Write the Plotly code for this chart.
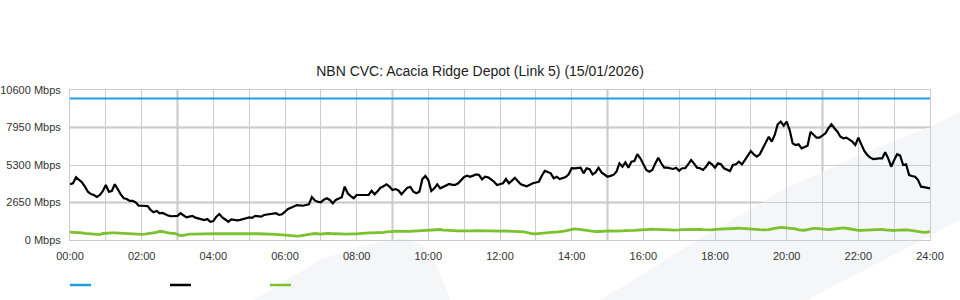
import plotly.graph_objects as go

title_text = "NBN CVC: Acacia Ridge Depot (Link 5) (15/01/2026)"

# x axis: hours of the day, labels every 2 hours, grid every hour
x_tick_vals = list(range(0, 25))
x_tick_text = [f"{h:02d}:00" if h % 2 == 0 else "" for h in range(0, 25)]

y_tick_vals = [0, 2650, 5300, 7950, 10600]
y_tick_text = ["0 Mbps", "2650 Mbps", "5300 Mbps", "7950 Mbps", "10600 Mbps"]

# capacity (blue)
capacity_hours = [0, 24]
capacity_mbps = [10000, 10000]

# 5-minute samples across the day
sample_hours = [m / 60 for m in range(0, 1441, 5)]

# black series (Mbps), one row per hour
traffic_mbps = [
    3940, 4010, 4430, 4240, 4080, 3770, 3410, 3250, 3180, 3040, 3180, 3460,
    3890, 3410, 3460, 3940, 3530, 3230, 2950, 2900, 2760, 2760, 2660, 2420,
    2420, 2420, 2400, 2120, 1960, 2050, 1890, 1910, 1800, 1720, 1680, 1690,
    1700, 1890, 1770, 1600, 1650, 1700, 1580, 1520, 1460, 1410, 1480, 1290,
    1340, 1650, 1840, 1600, 1450, 1290, 1460, 1420, 1390, 1420, 1460, 1540,
    1600, 1560, 1700, 1650, 1650, 1770, 1790, 1820, 1850, 1890, 1770, 1820,
    2000, 2190, 2280, 2350, 2470, 2440, 2420, 2470, 2520, 3040, 2800, 2700,
    2660, 2850, 2950, 2830, 2590, 2830, 2950, 3020, 3770, 3300, 3100, 2950,
    3180, 3180, 3230, 3200, 3180, 3480, 3230, 3450, 3700, 3800, 3940, 3770,
    3530, 3600, 3500, 3230, 3460, 3700, 3750, 3410, 3300, 3410, 4300, 4520,
    4240, 3460, 3650, 3940, 3650, 3770, 3850, 3960, 3900, 3890, 4010, 4240,
    4450, 4540, 4470, 4550, 4640, 4590, 4290, 4470, 4430, 4280, 4120, 3890,
    3950, 4010, 4310, 4010, 4200, 4400, 4150, 3940, 3860, 3800, 3900, 4010,
    4060, 4120, 4540, 4880, 4800, 4710, 4360, 4470, 4310, 4380, 4450, 4640,
    5070, 5060, 5070, 5110, 4710, 5070, 5000, 4640, 4780, 5110, 4780, 4590,
    4470, 4530, 4600, 4830, 5420, 5180, 5490, 5110, 5530, 5580, 6060, 5770,
    5300, 4950, 4830, 4950, 5400, 5820, 5420, 5110, 5110, 5060, 5020, 5110,
    4900, 5070, 5070, 5350, 5650, 5400, 5110, 5070, 4950, 5180, 5490, 5350,
    5110, 5420, 5350, 5070, 4950, 4880, 5300, 5350, 5530, 5350, 5650, 6000,
    6290, 6050, 5890, 6060, 6480, 6900, 7300, 6950, 7420, 8180, 8360, 8080,
    8360, 7770, 6830, 6710, 6760, 6480, 6600, 6660, 7650, 7470, 7230, 7230,
    7400, 7540, 7900, 8180, 7900, 7650, 7300, 7190, 7230, 7070, 6950, 6710,
    7230, 6760, 6300, 6010, 5820, 5720, 5770, 5770, 5770, 6200, 5770, 5180,
    5650, 6060, 5960, 5300, 5350, 4590, 4520, 4470, 4240, 3770, 3740, 3720,
    3650,
]

# green series (Mbps), one row per hour
green_mbps = [
    550, 550, 540, 530, 500, 470, 450, 440, 420, 360, 380, 460,
    490, 500, 500, 500, 490, 480, 460, 420, 400, 400, 400, 410,
    400, 420, 440, 460, 470, 540, 600, 610, 540, 480, 470, 460,
    400, 320, 330, 380, 410, 420, 430, 420, 430, 420, 430, 430,
    440, 450, 440, 450, 440, 450, 440, 440, 450, 440, 450, 440,
    440, 450, 440, 440, 440, 430, 440, 430, 420, 400, 380, 360,
    350, 350, 340, 300, 270, 290, 340, 390, 430, 440, 460, 430,
    420, 440, 480, 470, 440, 420, 440, 430, 420, 440, 440, 430,
    430, 460, 480, 490, 500, 500, 500, 500, 510, 540, 570, 590,
    600, 620, 630, 610, 630, 640, 620, 630, 640, 650, 660, 680,
    690, 700, 720, 760, 740, 700, 680, 660, 650, 640, 640, 640,
    630, 640, 650, 640, 660, 650, 640, 640, 630, 640, 640, 640,
    630, 640, 630, 630, 620, 630, 620, 610, 580, 530, 470, 430,
    440, 460, 500, 540, 560, 550, 550, 560, 580, 600, 640, 700,
    760, 780, 770, 740, 700, 650, 600, 590, 590, 600, 620, 630,
    630, 640, 630, 620, 640, 650, 660, 650, 660, 680, 700, 720,
    730, 750, 760, 760, 750, 750, 760, 750, 740, 720, 700, 690,
    710, 740, 750, 760, 760, 770, 760, 750, 730, 710, 700, 720,
    750, 760, 780, 810, 830, 830, 820, 830, 830, 820, 800, 770,
    740, 720, 720, 730, 720, 710, 740, 780, 830, 870, 890, 870,
    850, 830, 820, 790, 720, 690, 690, 730, 790, 820, 820, 790,
    760, 730, 740, 760, 790, 820, 840, 850, 830, 790, 740, 700,
    680, 680, 690, 720, 750, 770, 780, 770, 750, 720, 690, 660,
    670, 700, 720, 730, 720, 700, 670, 640, 600, 560, 540, 560,
    590,
]

BLUE = "#1e9fe0"
BLACK = "#000000"
GREEN = "#7cc22e"
GRID = "#cccccc"
GRID_DARK = "#c2c2c2"
FONT = "Liberation Sans, Arial, sans-serif"

fig = go.Figure()
fig.add_trace(go.Scatter(x=capacity_hours, y=capacity_mbps, mode="lines",
                         line=dict(color=BLUE, width=2.2), hoverinfo="skip"))
fig.add_trace(go.Scatter(x=sample_hours, y=green_mbps, mode="lines",
                         line=dict(color=GREEN, width=2.8), hoverinfo="skip"))
fig.add_trace(go.Scatter(x=sample_hours, y=traffic_mbps, mode="lines",
                         line=dict(color=BLACK, width=2.2), hoverinfo="skip"))

shapes = []
# half-pixel (blurred, heavier-looking) grid lines of the original
for h in [3, 9, 15, 21]:
    shapes.append(dict(type="line", xref="x", yref="paper", x0=h, x1=h, y0=0, y1=1,
                       line=dict(color=GRID_DARK, width=2), layer="below"))
for v in [2650, 7950]:
    shapes.append(dict(type="line", xref="paper", yref="y", x0=0, x1=1, y0=v, y1=v,
                       line=dict(color=GRID_DARK, width=2), layer="below"))

# faint background watermark shapes (paper coords)
def px(xp):
    return (xp - 70) / 860

def py(yp):
    return (240 - yp) / 150

band = [(600, 300), (650, 270), (689, 245), (740, 215), (786, 188), (860, 155),
        (934, 125), (960, 112), (960, 220), (807, 300)]
blob = [(253, 300), (290, 278), (320, 260), (360, 246), (403, 238), (422, 245),
        (438, 268), (450, 300)]
for poly in (band, blob):
    path = "M " + " L ".join(f"{px(a):.4f},{py(b):.4f}" for a, b in poly) + " Z"
    shapes.append(dict(type="path", xref="paper", yref="paper", path=path,
                       fillcolor="#f5f6f8", line=dict(width=0), layer="below"))

# legend swatches (no text in the original)
for x0p, col in [(70, BLUE), (170, BLACK), (270, GREEN)]:
    shapes.append(dict(type="line", xref="paper", yref="paper",
                       x0=px(x0p), x1=px(x0p + 21), y0=py(285), y1=py(285),
                       line=dict(color=col, width=2.5)))

fig.update_layout(
    width=960, height=300, autosize=False,
    margin=dict(l=70, r=30, t=90, b=60, autoexpand=False),
    paper_bgcolor="white", plot_bgcolor="rgba(0,0,0,0)",
    showlegend=False,
    font=dict(family=FONT, size=11, color="#333333"),
    title=dict(text=title_text, x=0.5, xanchor="center", xref="container",
               y=1 - 71 / 300, yanchor="middle", yref="container",
               font=dict(family=FONT, size=14, color="#222222")),
    shapes=shapes,
)
fig.update_xaxes(range=[0, 24], tickmode="array", tickvals=x_tick_vals, ticktext=x_tick_text,
                 showgrid=True, gridcolor=GRID, gridwidth=1, zeroline=False,
                 showline=True, linecolor=GRID, linewidth=1, mirror=True,
                 ticks="", ticklabelstandoff=6, automargin=False, fixedrange=True)
fig.update_yaxes(range=[0, 10600], tickmode="array", tickvals=y_tick_vals, ticktext=y_tick_text,
                 showgrid=True, gridcolor=GRID, gridwidth=1, zeroline=False,
                 showline=True, linecolor=GRID, linewidth=1, mirror=True,
                 ticks="", ticklabelstandoff=6, automargin=False, fixedrange=True)

fig.write_html("out.html", config={"displayModeBar": False})
